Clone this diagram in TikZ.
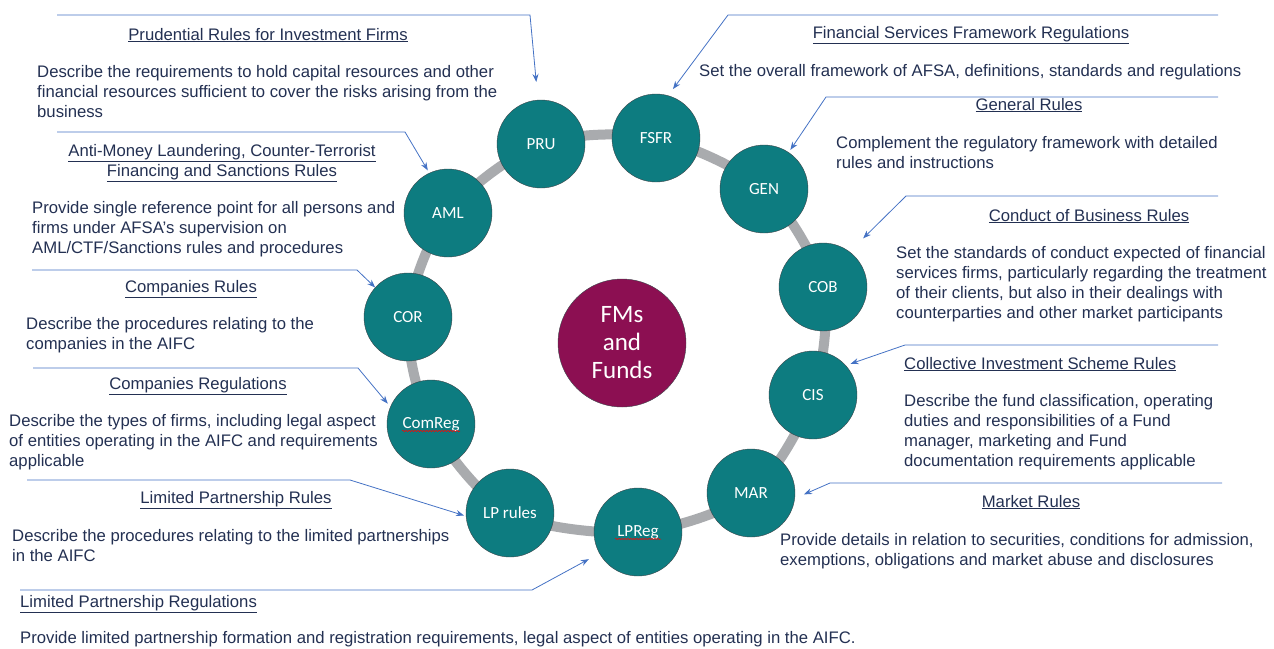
\documentclass[tikz,border=0pt]{standalone}
\usepackage{fontspec}
\setmainfont{Liberation Sans}
\newfontfamily\nodefont{Carlito}
\usetikzlibrary{arrows.meta,backgrounds,decorations.pathmorphing}
\definecolor{tealfill}{RGB}{13,124,128}
\definecolor{fmpurple}{RGB}{140,15,82}
\definecolor{ringgray}{RGB}{169,171,174}
\definecolor{rimgray}{RGB}{60,70,75}
\definecolor{navytxt}{RGB}{35,48,82}
\definecolor{lineblue}{RGB}{68,114,196}

\begin{document}
\begin{tikzpicture}[x=1pt, y=-1pt]
  \tikzstyle{rnode} = [draw=rimgray, thin, fill=tealfill, circle, minimum size=88pt, inner sep=0pt,
  text=white, font=\nodefont\fontsize{17}{20}\selectfont]
  \tikzstyle{fnode} = [draw=rimgray, thin, fill=fmpurple, circle, minimum size=128pt, inner sep=0pt,
  align=center, text=white, font=\nodefont\fontsize{25}{28}\selectfont]
  \tikzstyle{headtxt} = [inner sep=0pt, anchor=base, align=center, text=navytxt, font=\fontsize{16.7}{20}\selectfont]
  \tikzstyle{bodytxt} = [inner sep=0pt, anchor=base west, align=left, text=navytxt, font=\fontsize{16.7}{20}\selectfont]
  \tikzstyle{callout} = [draw=lineblue, line width=0.8pt, -{Stealth[length=8pt,width=6pt]}]
  \tikzstyle{spellwave} = [draw=red, line width=0.5pt, decorate,
  decoration={snake, amplitude=0.7pt, segment length=3pt}]

  \useasboundingbox (0,0) rectangle (1274,648);

  % ring of rule books
  \node[fnode] (fm) at (622,343) {FMs\\and\\Funds};
  \node[rnode] (pru) at (541,144) {PRU};
  \node[rnode] (fsfr) at (656,138) {FSFR};
  \node[rnode] (gen) at (764,189) {GEN};
  \node[rnode] (cob) at (823,287) {COB};
  \node[rnode] (cis) at (813,395) {CIS};
  \node[rnode] (mar) at (751,493) {MAR};
  \node[rnode] (lpreg) at (638,532) {LPReg};
  \node[rnode] (lprules) at (510,513) {LP rules};
  \node[rnode] (comreg) at (431,424) {ComReg};
  \node[rnode] (cor) at (408,317) {COR};
  \node[rnode] (aml) at (448,213) {AML};

  \begin{pgfonlayer}{background}
    \draw[ringgray, line width=10pt] plot[smooth cycle] coordinates {(pru.center) (fsfr.center)
      (gen.center) (cob.center) (cis.center) (mar.center) (lpreg.center) (lprules.center)
      (comreg.center) (cor.center) (aml.center)};
  \end{pgfonlayer}

  \draw[spellwave] ([xshift=-29pt,yshift=-7pt]comreg.center) -- ([xshift=29pt,yshift=-7pt]comreg.center);
  \draw[spellwave] ([xshift=-23pt,yshift=-7pt]lpreg.center) -- ([xshift=23pt,yshift=-7pt]lpreg.center);

  % left side (multi-line texts sit on the baseline of their last line)
  \node[headtxt] (pru-t) at (268,40) {\underline{Prudential Rules for Investment Firms}};
  \node[bodytxt] (pru-d) at (37,117) {Describe the requirements to hold capital resources and other\\
    financial resources sufficient to cover the risks arising from the\\business};
  \node[headtxt] (aml-t) at (222,176) {\underline{Anti-Money Laundering, Counter-Terrorist}\\
    \underline{Financing and Sanctions Rules}};
  \node[bodytxt] (aml-d) at (32,253) {Provide single reference point for all persons and\\
    firms under AFSA’s supervision on\\AML/CTF/Sanctions rules and procedures};
  \node[headtxt] (cor-t) at (191,292) {\underline{Companies Rules}};
  \node[bodytxt] (cor-d) at (26,349) {Describe the procedures relating to the\\companies in the AIFC};
  \node[headtxt] (comreg-t) at (198,389) {\underline{Companies Regulations}};
  \node[bodytxt] (comreg-d) at (9,466) {Describe the types of firms, including legal aspect\\
    of entities operating in the AIFC and requirements\\applicable};
  \node[headtxt] (lprules-t) at (236,503) {\underline{Limited Partnership Rules}};
  \node[bodytxt] (lprules-d) at (12,561) {Describe the procedures relating to the limited partnerships\\in the AIFC};
  \node[bodytxt] (lpreg-t) at (20,607) {\underline{Limited Partnership Regulations}};
  \node[bodytxt] (lpreg-d) at (20,643) {Provide limited partnership formation and registration requirements, legal aspect of entities operating in the AIFC.};

  % right side
  \node[headtxt] (fsfr-t) at (971,38) {\underline{Financial Services Framework Regulations}};
  \node[bodytxt] (fsfr-d) at (699,76) {Set the overall framework of AFSA, definitions, standards and regulations};
  \node[headtxt] (gen-t) at (1029,110) {\underline{General Rules}};
  \node[bodytxt] (gen-d) at (836,168) {Complement the regulatory framework with detailed\\rules and instructions};
  \node[headtxt] (cob-t) at (1089,221) {\underline{Conduct of Business Rules}};
  \node[bodytxt] (cob-d) at (896,318) {Set the standards of conduct expected of financial\\
    services firms, particularly regarding the treatment\\
    of their clients, but also in their dealings with\\
    counterparties and other market participants};
  \node[bodytxt] (cis-t) at (904,369) {\underline{Collective Investment Scheme Rules}};
  \node[bodytxt] (cis-d) at (904,466) {Describe the fund classification, operating\\
    duties and responsibilities of a Fund\\manager, marketing and Fund\\
    documentation requirements applicable};
  \node[headtxt] (mar-t) at (1031,507) {\underline{Market Rules}};
  \node[bodytxt] (mar-d) at (780,565) {Provide details in relation to securities, conditions for admission,\\
    exemptions, obligations and market abuse and disclosures};

  % callouts
  \coordinate (pru-a) at (57,15);     \coordinate (pru-b) at (530,15);
  \coordinate (aml-a) at (57,132);    \coordinate (aml-b) at (405,132);
  \coordinate (cor-a) at (32,270);    \coordinate (cor-b) at (357,270);
  \coordinate (comreg-a) at (33,368); \coordinate (comreg-b) at (358,368);
  \coordinate (lprules-a) at (27,480); \coordinate (lprules-b) at (350,480);
  \coordinate (lpreg-a) at (20,590);  \coordinate (lpreg-b) at (532,590);
  \coordinate (fsfr-a) at (1218,15);  \coordinate (fsfr-b) at (728,15);
  \coordinate (gen-a) at (1218,97);   \coordinate (gen-b) at (826,97);
  \coordinate (cob-a) at (1218,196);  \coordinate (cob-b) at (906,196);
  \coordinate (cis-a) at (1218,345);  \coordinate (cis-b) at (905,345);
  \coordinate (mar-a) at (1222,483);  \coordinate (mar-b) at (830,483);

  \draw[callout, shorten >=18pt] (pru-a) -- (pru-b) -- (pru.94);
  \draw[callout, shorten >=3pt] (aml-a) -- (aml-b) -- (aml.115);
  \draw[callout] (cor-a) -- (cor-b) -- (cor.138);
  \draw[callout, shorten >=4pt] (comreg-a) -- (comreg-b) -- (comreg.157);
  \draw[callout, shorten >=2pt] (lprules-a) -- (lprules-b) -- (lprules.184);
  \draw[callout, shorten >=12pt] (lpreg-a) -- (lpreg-b) -- (lpreg.209);
  \draw[callout, shorten >=8pt] (fsfr-a) -- (fsfr-b) -- (fsfr.74);
  \draw[callout, shorten >=3pt] (gen-a) -- (gen-b) -- (gen.56);
  \draw[callout, shorten >=19pt] (cob-a) -- (cob-b) -- (cob.53);
  \draw[callout, shorten >=5pt] (cis-a) -- (cis-b) -- (cis.42);
  \draw[callout, shorten >=10pt] (mar-a) -- (mar-b) -- (mar.-7);
\end{tikzpicture}
\end{document}
